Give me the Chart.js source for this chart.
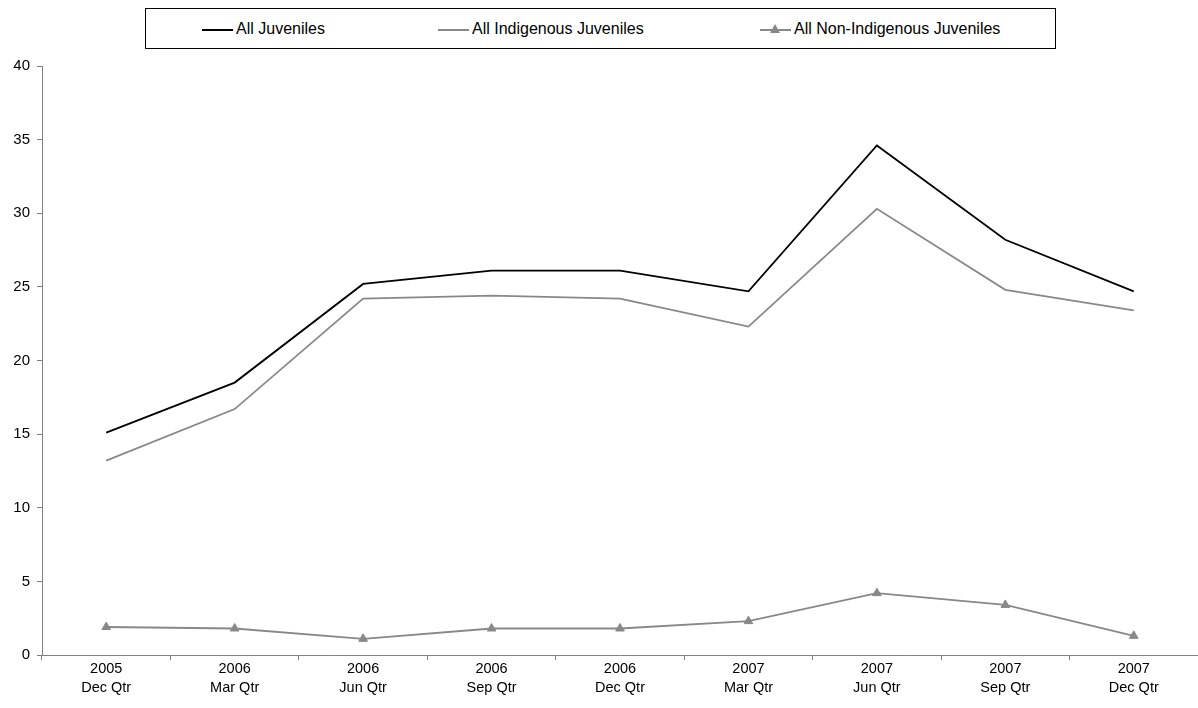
<!DOCTYPE html>
<html>
<head>
<meta charset="utf-8">
<script src="https://cdn.jsdelivr.net/npm/chart.js@4/dist/chart.umd.min.js"></script>
<style>
  html, body { margin:0; padding:0; background:#fff; overflow:hidden; }
  #wrap { position:relative; width:1198px; height:708px; }
  #legend { position:absolute; left:145px; top:8px; width:909px; height:39px; border:1px solid #000; background:#fff;
            font-family:"Liberation Sans", Arial, sans-serif; font-size:16px; color:#000; }
  .item { position:absolute; top:11px; height:18px; line-height:18px; white-space:nowrap; }
  .sw { position:absolute; top:9px; width:31px; height:0; }
  .lbl { position:absolute; left:34px; top:0; }
  .tri { position:absolute; left:10px; top:4px; width:0; height:0; border-left:5px solid transparent; border-right:5px solid transparent; border-bottom:9px solid #888; }
</style>
</head>
<body>
<div id="wrap">
  <canvas id="c" width="1198" height="708"></canvas>
  <div id="legend">
    <div class="item" style="left:56px;"><div class="sw" style="border-top:2px solid #000;"></div><span class="lbl">All Juveniles</span></div>
    <div class="item" style="left:292px;"><div class="sw" style="border-top:2px solid #888;"></div><span class="lbl">All Indigenous Juveniles</span></div>
    <div class="item" style="left:614px;"><div class="sw" style="border-top:2px solid #888;"></div><div class="tri"></div><span class="lbl">All Non-Indigenous Juveniles</span></div>
  </div>
</div>
<script>
const categories = [
  ['2005','Dec Qtr'], ['2006','Mar Qtr'], ['2006','Jun Qtr'], ['2006','Sep Qtr'], ['2006','Dec Qtr'],
  ['2007','Mar Qtr'], ['2007','Jun Qtr'], ['2007','Sep Qtr'], ['2007','Dec Qtr']
];
const allJuveniles = [15.1, 18.5, 25.2, 26.1, 26.1, 24.7, 34.6, 28.2, 24.7];
const indigenousJuveniles = [13.2, 16.7, 24.2, 24.4, 24.2, 22.3, 30.3, 24.8, 23.4];
const nonIndigenousJuveniles = [1.9, 1.8, 1.1, 1.8, 1.8, 2.3, 4.2, 3.4, 1.3];
const yTicks = [0, 5, 10, 15, 20, 25, 30, 35, 40];

const FAMILY = '"Liberation Sans", Arial, sans-serif';

new Chart(document.getElementById('c'), {
  type: 'line',
  data: {
    labels: categories,
    datasets: [
      { label: 'All Juveniles', data: allJuveniles, borderColor: '#000', borderWidth: 1.8, pointRadius: 0, tension: 0 },
      { label: 'All Indigenous Juveniles', data: indigenousJuveniles, borderColor: '#888', borderWidth: 1.8, pointRadius: 0, tension: 0 },
      { label: 'All Non-Indigenous Juveniles', data: nonIndigenousJuveniles, borderColor: '#888', borderWidth: 1.8,
        pointStyle: 'triangle', pointRadius: 5, pointBackgroundColor: '#888', pointBorderColor: '#888', pointBorderWidth: 1, tension: 0 }
    ]
  },
  options: {
    responsive: false,
    animation: false,
    devicePixelRatio: 1,
    layout: { autoPadding: false, padding: { top: 66, left: 0, right: 0, bottom: 0 } },
    plugins: { legend: { display: false }, tooltip: { enabled: false } },
    scales: {
      x: {
        offset: true,
        grid: { offset: true, drawOnChartArea: false, drawTicks: true, tickLength: 5, color: '#808080' },
        border: { color: '#808080', width: 1 },
        ticks: { color: '#000', font: { family: FAMILY, size: 14.5, lineHeight: 1.3 }, maxRotation: 0, autoSkip: false, padding: 0 },
        afterFit: (s) => { s.height = 53; s.paddingLeft = 0; s.paddingRight = 0; }
      },
      y: {
        min: 0, max: 40,
        afterBuildTicks: (s) => { s.ticks = yTicks.map(v => ({ value: v })); },
        grid: { drawOnChartArea: false, drawTicks: true, tickLength: 5, color: '#808080' },
        border: { color: '#808080', width: 1 },
        ticks: { color: '#000', font: { family: FAMILY, size: 15 }, padding: 7 },
        afterFit: (s) => { s.width = 42; s.paddingTop = 0; s.paddingBottom = 0; }
      }
    }
  }
});
</script>
</body>
</html>
